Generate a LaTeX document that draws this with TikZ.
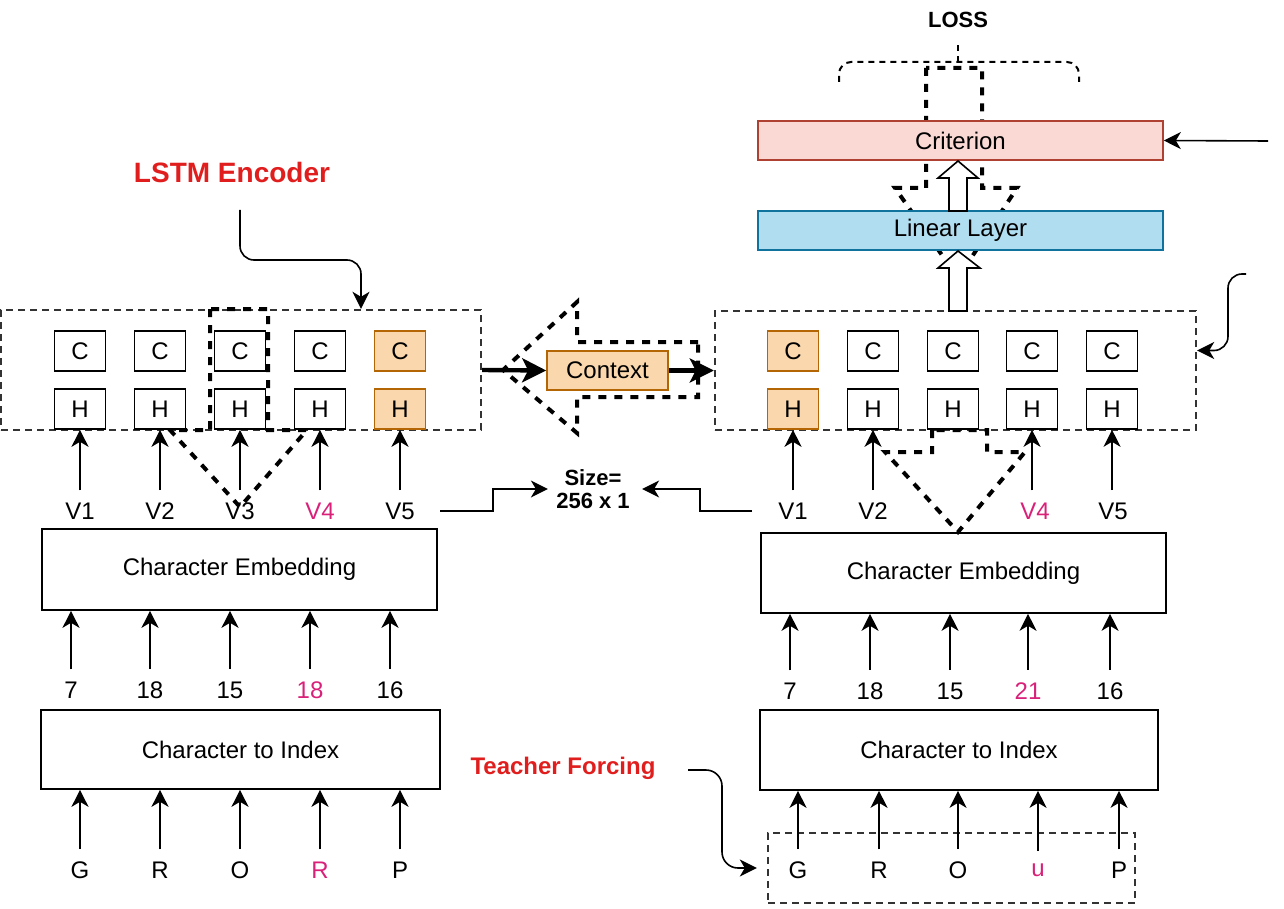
\documentclass[tikz,border=0pt]{standalone}
\usepackage{fontspec}
\setmainfont{Liberation Sans}
\usetikzlibrary{arrows.meta}
\definecolor{orF}{HTML}{FAD7AC}
\definecolor{orD}{HTML}{B46504}
\definecolor{crF}{HTML}{FAD9D5}
\definecolor{crD}{HTML}{AE4132}
\definecolor{liF}{HTML}{B1DDF0}
\definecolor{liD}{HTML}{10739E}
\definecolor{dgrey}{HTML}{333333}
\definecolor{pinkc}{RGB}{217,33,121}
\definecolor{redc}{RGB}{225,30,30}
\begin{document}
\begin{tikzpicture}[x=0.5pt,y=-0.5pt,
  every node/.style={font=\fontsize{12}{14}\selectfont},
  lbl/.style={inner sep=0pt},
  cell/.style={draw, line width=0.8pt, minimum width=25.5pt, minimum height=20pt, inner sep=0pt},
  ocell/.style={cell, draw=orD, fill=orF},
  blk/.style={draw, line width=0.8pt, inner sep=0pt},
  dbox/.style={draw=dgrey, line width=1.2pt, dash pattern=on 3.5pt off 2.5pt, inner sep=0pt},
  tdash/.style={line width=2pt, dash pattern=on 4pt off 4pt},
  thindash/.style={line width=1pt, dash pattern=on 3pt off 2.5pt},
  arr/.style={line width=0.8pt, -{Stealth[length=8.5pt,width=8.5pt,inset=2.5pt]}},
  varr/.style={arr, shorten <=6pt},
  barr/.style={line width=2.2pt, -{Stealth[length=12pt,width=12pt,inset=3pt]}},
  hollow/.style={draw, fill=white, line width=0.8pt},
]
\useasboundingbox (0,0) rectangle (1284,909);

% ---------------- top part ----------------
\node[lbl, font=\bfseries\fontsize{11}{13}\selectfont] (loss) at (958,20) {LOSS};
\draw[thindash, rounded corners=6pt] (839,82) -- (839,62) -- (1079,62) -- (1079,82);
\coordinate (btip) at (958,62);
\draw[thindash, shorten >=8pt] (btip) -- (loss.south);

\draw[tdash] (926,68) -- (926,188) -- (895,188) -- (958,278) -- (1017,188) -- (982,188) -- (982,68) -- cycle;

\node[blk, draw=crD, fill=crF, minimum width=202.5pt, minimum height=19.5pt] (crit) at (960.5,140.5) {Criterion};
\node[blk, draw=liD, fill=liF, minimum width=202.5pt, minimum height=19.5pt] (lin) at (960.5,230.5) {Linear Layer};

\coordinate (cr) at (1268,141);
\draw[arr] (cr) -- (crit.east);

% ---------------- encoder ----------------
\node[lbl, text=redc, font=\bfseries\fontsize{14}{16}\selectfont] (lstm) at (232,172) {LSTM Encoder};
\node[dbox, minimum width=240pt, minimum height=60pt] (enc) at (241,370) {};
\coordinate (ls) at (240,210);
\draw[arr, rounded corners=7pt] (ls) -- ++(0,50) -| ([xshift=60pt]enc.north);

\node[cell] (lc1) at (80,351) {C};
\node[cell] (lc2) at (160,351) {C};
\node[cell] (lc3) at (240,351) {C};
\node[cell] (lc4) at (320,351) {C};
\node[ocell] (lc5) at (400,351) {C};
\node[cell] (lh1) at (80,409) {H};
\node[cell] (lh2) at (160,409) {H};
\node[cell] (lh3) at (240,409) {H};
\node[cell] (lh4) at (320,409) {H};
\node[ocell] (lh5) at (400,409) {H};

\node[lbl] (lv1) at (80,511) {V1};
\node[lbl] (lv2) at (160,511) {V2};
\node[lbl] (lv3) at (240,511) {V3};
\node[lbl, text=pinkc] (lv4) at (320,511) {V4};
\node[lbl] (lv5) at (400,511) {V5};
\foreach \i in {1,...,5} \draw[varr] (lh\i.south |- lv\i.north) -- (lh\i.south);

\draw[tdash] (210,309) -- (210,430) -- (170,430) -- (240,507) -- (307,430) -- (268,430) -- (268,309) -- cycle;

\node[blk, minimum width=197.5pt, minimum height=40.5pt] (lemb) at (239.5,569.5) {Character Embedding};
\node[lbl] (ln1) at (71,690) {7};
\node[lbl] (ln2) at (150,690) {18};
\node[lbl] (ln3) at (230,690) {15};
\node[lbl, text=pinkc] (ln4) at (310,690) {18};
\node[lbl] (ln5) at (390,690) {16};
\foreach \i in {1,...,5} \draw[varr] (ln\i.north) -- (ln\i.north |- lemb.south);

\node[blk, minimum width=199.5pt, minimum height=39.5pt] (lidx) at (240.5,749.5) {Character to Index};
\node[lbl] (lg1) at (80,870) {G};
\node[lbl] (lg2) at (160,870) {R};
\node[lbl] (lg3) at (240,870) {O};
\node[lbl, text=pinkc] (lg4) at (320,870) {R};
\node[lbl] (lg5) at (400,870) {P};
\foreach \i in {1,...,5} \draw[varr] (lg\i.north) -- (lg\i.north |- lidx.south);

% ---------------- context ----------------
\draw[tdash] (698,342) -- (577,342) -- (577,302) -- (503,370) -- (577,433) -- (577,397) -- (698,397) -- cycle;
\node[blk, draw=orD, fill=orF, minimum width=60.5pt, minimum height=19.5pt] (ctx) at (607.5,370.5) {Context};

% ---------------- decoder ----------------
\node[dbox, minimum width=240.5pt, minimum height=59.5pt] (dec) at (955.5,370.5) {};
\draw[barr] (enc.east) -- (ctx.west);
\draw[barr] (ctx.east) -- (dec.west);

\node[ocell] (rc1) at (793,351) {C};
\node[cell] (rc2) at (873,351) {C};
\node[cell] (rc3) at (953,351) {C};
\node[cell] (rc4) at (1032,351) {C};
\node[cell] (rc5) at (1112,351) {C};
\node[ocell] (rh1) at (793,409) {H};
\node[cell] (rh2) at (873,409) {H};
\node[cell] (rh3) at (953,409) {H};
\node[cell] (rh4) at (1032,409) {H};
\node[cell] (rh5) at (1112,409) {H};

\draw[hollow] (949,311) -- (949,268) -- (938,268) -- (958,251) -- (980,268) -- (967,268) -- (967,311) -- cycle;
\draw[hollow] (949,211) -- (949,178) -- (938,178) -- (958,161) -- (978,178) -- (967,178) -- (967,211) -- cycle;

\coordinate (rcv) at (1246,274);
\draw[arr, rounded corners=7pt] (rcv) -- ++(-18,0) |- ([yshift=10pt]dec.east);

\node[lbl] (rv1) at (793,511) {V1};
\node[lbl] (rv2) at (873,511) {V2};
\node[lbl, text=pinkc] (rv4) at (1035,511) {V4};
\node[lbl] (rv5) at (1113,511) {V5};
\draw[varr] (rh1.south |- rv1.north) -- (rh1.south);
\draw[varr] (rh2.south |- rv2.north) -- (rh2.south);
\draw[varr] (rh4.south |- rv4.north) -- (rh4.south);
\draw[varr] (rh5.south |- rv5.north) -- (rh5.south);

\node[blk, minimum width=202.5pt, minimum height=40pt] (remb) at (963.5,573) {Character Embedding};
\draw[tdash] (932,430) -- (932,452) -- (885,452) -- (958,532) -- (1025,452) -- (987,452) -- (987,430) -- cycle;

\node[lbl] (rn1) at (790,691) {7};
\node[lbl] (rn2) at (870,691) {18};
\node[lbl] (rn3) at (950,691) {15};
\node[lbl, text=pinkc] (rn4) at (1028,691) {21};
\node[lbl] (rn5) at (1110,691) {16};
\foreach \i in {1,...,5} \draw[varr] (rn\i.north) -- (rn\i.north |- remb.south);

\node[blk, minimum width=199pt, minimum height=40pt] (ridx) at (959,750) {Character to Index};
\node[dbox, minimum width=183.5pt, minimum height=35pt] (tbox) at (951.5,868) {};
\node[lbl] (rg1) at (798,870) {G};
\node[lbl] (rg2) at (879,870) {R};
\node[lbl] (rg3) at (958,870) {O};
\node[lbl, text=pinkc] (rg4) at (1038,870) {u};
\node[lbl] (rg5) at (1119,870) {P};
\foreach \i in {1,...,5} \draw[varr] (rg\i.north) -- (rg\i.north |- ridx.south);

% ---------------- size ----------------
\node[lbl, align=center, font=\bfseries\fontsize{11}{11.5}\selectfont] (size) at (593,489) {Size=\\256 x 1};
\coordinate (sl) at (440,511);
\coordinate (sr) at (752,511);
\draw[arr] (sl) -- ++(53,0) |- ([xshift=-4pt]size.west);
\draw[arr] (sr) -- ++(-52,0) |- ([xshift=6pt]size.east);

% ---------------- teacher forcing ----------------
\node[lbl, text=redc, font=\bfseries\fontsize{12}{14}\selectfont] (tf) at (563,768) {Teacher Forcing};
\coordinate (ts) at (688,770);
\draw[arr, rounded corners=8pt] (ts) -- ++(34,0) |- ([xshift=-5pt]tbox.west);
\end{tikzpicture}
\end{document}
